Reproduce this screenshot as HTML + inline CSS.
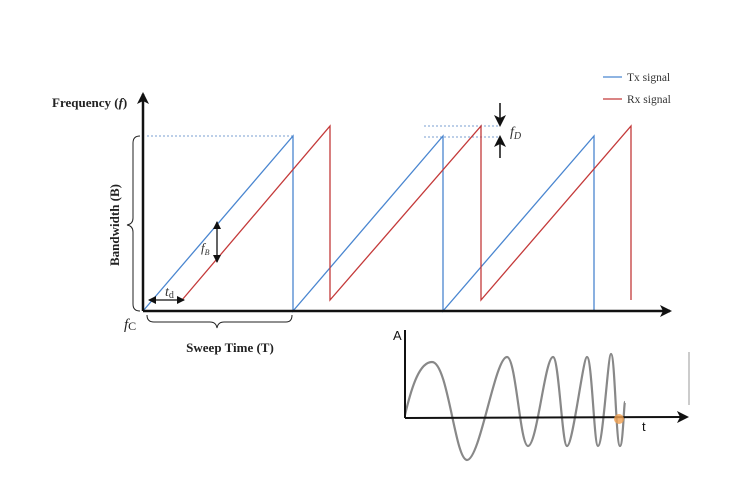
<!DOCTYPE html>
<html><head><style>body{margin:0;background:#fff}svg{display:block}</style></head><body>
<svg width="736" height="490" viewBox="0 0 736 490" xmlns="http://www.w3.org/2000/svg" font-family="Liberation Serif, serif">
<defs>
<marker id="ah" markerWidth="8" markerHeight="8" refX="7" refY="4" orient="auto" markerUnits="userSpaceOnUse"><path d="M0,0 L8,4 L0,8 Z" fill="#111"/></marker>
<marker id="big" markerWidth="12" markerHeight="12" refX="10" refY="6" orient="auto" markerUnits="userSpaceOnUse"><path d="M0,0 L12,6 L0,12 L3,6 Z" fill="#111"/></marker>
</defs>
<g stroke="#7a9fd0" stroke-width="1" stroke-dasharray="2,2">
<line x1="147" y1="136" x2="293" y2="136"/>
<line x1="424" y1="137" x2="500" y2="137"/>
<line x1="424" y1="126" x2="500" y2="126"/>
</g>
<polyline fill="none" stroke="#4a86d0" stroke-width="1.3" points="143,311 293,136 293,311 443,136 443,311 594,136 594,311"/>
<polyline fill="none" stroke="#c43a3a" stroke-width="1.3" points="182,300 330,126 330,300 481,126 481,300 631,126 631,300"/>
<line x1="143" y1="311" x2="143" y2="94" stroke="#111" stroke-width="2.5" marker-end="url(#big)"/>
<line x1="143" y1="311" x2="670" y2="311" stroke="#111" stroke-width="2.5" marker-end="url(#big)"/>
<path d="M140,136 Q133,136 133,143 L133,218 Q133,224 127,225 Q133,226 133,232 L133,304 Q133,311 140,311" fill="none" stroke="#222" stroke-width="1"/>
<path d="M147,315 Q147,322 154,322 L210,322 Q216,322 217,328 Q218,322 224,322 L286,322 Q292,322 292,315" fill="none" stroke="#222" stroke-width="1"/>
<line x1="217" y1="241" x2="217" y2="222" stroke="#111" stroke-width="1.3" marker-end="url(#ah)"/>
<line x1="217" y1="241" x2="217" y2="262" stroke="#111" stroke-width="1.3" marker-end="url(#ah)"/>
<line x1="166" y1="300" x2="149" y2="300" stroke="#111" stroke-width="1.3" marker-end="url(#ah)"/>
<line x1="166" y1="300" x2="184" y2="300" stroke="#111" stroke-width="1.3" marker-end="url(#ah)"/>
<line x1="500" y1="103" x2="500" y2="125" stroke="#111" stroke-width="1.5" marker-end="url(#big)"/>
<line x1="500" y1="158" x2="500" y2="137" stroke="#111" stroke-width="1.5" marker-end="url(#big)"/>
<text x="52" y="107" font-size="13" font-weight="bold" fill="#222">Frequency (<tspan font-style="italic">f</tspan>)</text>
<text transform="translate(119,225) rotate(-90)" text-anchor="middle" font-size="13" font-weight="bold" fill="#222">Bandwidth (B)</text>
<text x="124" y="329" font-size="15" font-style="italic" fill="#222">f<tspan font-size="12" font-style="normal" dy="1">C</tspan></text>
<text x="230" y="352" text-anchor="middle" font-size="13" font-weight="bold" fill="#222">Sweep Time (T)</text>
<text x="201" y="252" font-size="13" font-style="italic" fill="#333">f<tspan font-size="8" dy="3">B</tspan></text>
<text x="165" y="296" font-size="14" font-style="italic" fill="#333">t<tspan font-size="10" font-style="normal" dy="2">d</tspan></text>
<text x="510" y="136" font-size="14" font-style="italic" fill="#333">f<tspan font-size="10" dy="3">D</tspan></text>
<line x1="603" y1="77" x2="622" y2="77" stroke="#4a86d0" stroke-width="1.3"/>
<text x="627" y="81" font-size="11.5" fill="#333">Tx signal</text>
<line x1="603" y1="99" x2="622" y2="99" stroke="#c43a3a" stroke-width="1.3"/>
<text x="627" y="103" font-size="11.5" fill="#333">Rx signal</text>
<path fill="none" stroke="#888" stroke-width="2.2" d="M405,415 C412,385 420,362 432,362 C448,362 455,460 467,460 C480,460 495,357 507,357 C516,357 520,446 528,446 C537,446 545,357 553,357 C559,357 562,446 567,446 C573,446 583,357 587,357 C592,357 594,446 598,446 C603,446 608,354 611,354 C615,354 616,446 620,446 C623,446 624,402 625,402"/>
<line x1="405" y1="418" x2="405" y2="330" stroke="#111" stroke-width="2"/>
<line x1="405" y1="418" x2="687" y2="417" stroke="#111" stroke-width="2" marker-end="url(#big)"/>
<circle cx="619" cy="419" r="5" fill="#f0a050" opacity="0.8"/>
<text x="393" y="340" font-family="Liberation Sans, sans-serif" font-size="13" fill="#111">A</text>
<text x="642" y="431" font-family="Liberation Sans, sans-serif" font-size="13" fill="#111">t</text>
<line x1="689" y1="352" x2="689" y2="405" stroke="#999" stroke-width="1"/>
</svg>
</body></html>
